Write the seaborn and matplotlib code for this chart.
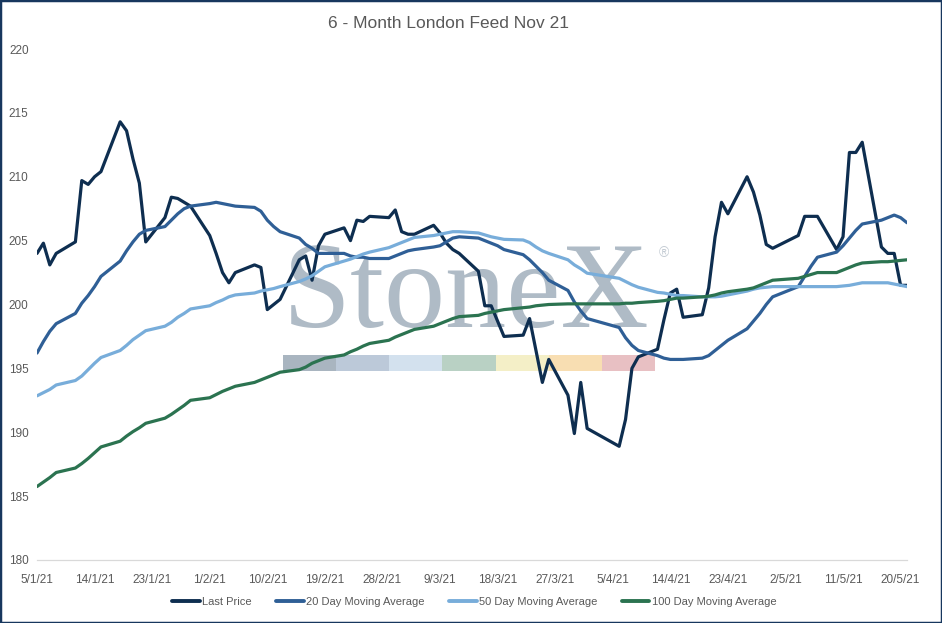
import matplotlib
matplotlib.use("Agg")
import matplotlib.pyplot as plt
import matplotlib.dates as mdates
from matplotlib.patches import Rectangle
from matplotlib.lines import Line2D
import seaborn as sns
import pandas as pd

# trading days (London), Good Friday / Easter Monday / May bank holiday off
holidays = ["2021-04-02", "2021-04-05", "2021-05-03"]
dates = pd.bdate_range("2021-01-05", "2021-05-21")
dates = dates[~dates.isin(pd.to_datetime(holidays))]

last_price = [
    204.0, 204.8, 203.1, 204.0, 204.9, 209.7, 209.4, 210.0, 210.4, 214.3,
    213.6, 211.4, 209.5, 204.9, 206.8, 208.4, 208.3, 208.0, 207.7,
    205.4, 204.0, 202.5, 201.7, 202.5, 203.1, 202.9, 199.6, 200.0, 200.4,
    203.5, 203.8, 201.9, 204.6, 205.5, 206.0, 205.0, 206.6, 206.5, 206.9,
    206.8, 207.4, 205.7, 205.5, 205.5, 206.2, 205.6, 204.8, 204.3, 204.0,
    202.6, 199.9, 199.9, 198.7, 197.5, 197.6, 198.9, 196.4, 193.9, 195.7,
    192.9, 189.9, 193.9,
    190.3, 188.9, 191.0, 195.0, 195.9, 196.5, 198.8, 200.9, 201.2, 199.0,
    199.2, 201.3, 205.3, 208.0, 207.1, 210.0, 208.8, 207.0, 204.7, 204.4,
    205.4, 206.9, 206.9, 206.9, 204.3, 205.3, 211.9, 211.9, 212.7, 204.5,
    204.0, 204.0, 201.5, 201.5,
]
ma20 = [
    196.2, 197.1, 197.9, 198.5, 199.3, 200.1, 200.7, 201.4, 202.2, 203.4,
    204.2, 204.9, 205.5, 205.8, 206.1, 206.6, 207.1, 207.5, 207.7,
    207.9, 208.0, 207.9, 207.8, 207.7, 207.6, 207.3, 206.6, 206.1, 205.7,
    205.2, 204.7, 204.4, 204.0, 204.0, 204.0, 203.8, 203.7, 203.7, 203.6,
    203.6, 203.8, 204.0, 204.2, 204.3, 204.5, 204.6, 204.9, 205.2, 205.3,
    205.2, 205.0, 204.8, 204.6, 204.3, 203.9, 203.5, 203.0, 202.5, 201.9,
    201.1, 200.2, 199.5,
    198.9, 198.2, 197.4, 196.8, 196.4, 196.0, 195.8, 195.7, 195.7, 195.7,
    195.8, 196.0, 196.4, 196.8, 197.2, 198.1, 198.7, 199.3, 200.0, 200.6,
    201.4, 202.2, 203.0, 203.7, 204.1, 204.6, 205.2, 205.8, 206.3, 206.6,
    206.8, 207.0, 206.8, 206.4,
]
ma50 = [
    192.85, 193.1, 193.35, 193.7, 194.05, 194.4, 194.9, 195.4, 195.85, 196.4,
    196.8, 197.25, 197.6, 197.95, 198.3, 198.6, 199.0, 199.3, 199.65,
    199.9, 200.15, 200.35, 200.6, 200.75, 200.9, 201.05, 201.15, 201.25, 201.4,
    201.8, 202.0, 202.25, 202.6, 202.95, 203.4, 203.55, 203.75, 203.95, 204.1,
    204.45, 204.65, 204.85, 205.05, 205.25, 205.4, 205.5, 205.6, 205.7, 205.7,
    205.6, 205.45, 205.3, 205.2, 205.1, 205.05, 204.85, 204.5, 204.2, 204.0,
    203.5, 203.1, 202.8,
    202.45, 202.05, 201.8, 201.55, 201.35, 200.95, 200.9, 200.8, 200.7, 200.7,
    200.6, 200.6, 200.6, 200.65, 200.75, 201.05, 201.2, 201.3, 201.35, 201.4,
    201.4, 201.4, 201.4, 201.4, 201.4, 201.45, 201.5, 201.6, 201.7, 201.7,
    201.7, 201.6, 201.5, 201.4,
]
ma100 = [
    185.75, 186.1, 186.45, 186.85, 187.2, 187.55, 187.95, 188.4, 188.85, 189.3,
    189.7, 190.05, 190.35, 190.7, 191.1, 191.4, 191.75, 192.1, 192.5,
    192.7, 192.95, 193.2, 193.4, 193.6, 193.9, 194.1, 194.3, 194.5, 194.7,
    194.9, 195.1, 195.4, 195.6, 195.8, 196.05, 196.3, 196.5, 196.75, 196.95,
    197.2, 197.45, 197.65, 197.85, 198.05, 198.3, 198.5, 198.7, 198.9, 199.05,
    199.15, 199.3, 199.4, 199.5, 199.6, 199.75, 199.8, 199.9, 199.95, 200.0,
    200.05, 200.05, 200.05,
    200.05, 200.05, 200.1, 200.1, 200.15, 200.25, 200.3, 200.4, 200.5, 200.5,
    200.6, 200.65, 200.75, 200.9, 201.0, 201.2, 201.3, 201.5, 201.7, 201.9,
    202.05, 202.2, 202.35, 202.5, 202.5, 202.7, 202.9, 203.1, 203.25, 203.35,
    203.35, 203.4, 203.45, 203.5,
]

series_names = ["Last Price", "20 Day Moving Average",
                "50 Day Moving Average", "100 Day Moving Average"]
colors = ["#0E2E50", "#2F5F96", "#78ADDA", "#2B7350"]

df = pd.DataFrame({"date": dates, series_names[0]: last_price,
                   series_names[1]: ma20, series_names[2]: ma50,
                   series_names[3]: ma100})
long_df = df.melt(id_vars="date", var_name="series", value_name="value")

sns.set_style("white")
plt.rcParams["font.family"] = ["Liberation Sans", "DejaVu Sans"]
grey = "#595959"

fig = plt.figure(figsize=(9.42, 6.23), dpi=100)
ax = fig.add_axes([37 / 942, 1 - 560 / 623, 870 / 942, 511 / 623])

# StoneX watermark behind the lines
ax.text(0.2828, 0.456, "StoneX", transform=ax.transAxes, ha="left",
        va="baseline", fontsize=88, family="Liberation Serif",
        color="#AFBBC6", zorder=0)
ax.text(0.720, 0.600, "\u00ae", transform=ax.transAxes, ha="center",
        va="center", fontsize=10, color="#C3CBD3", zorder=0)
strip = ["#A9B5C0", "#BCC9D9", "#D3E1EE", "#B9D1C4",
         "#F4EFC7", "#F8DEB2", "#E8C0C3"]
seg = (655 - 283) / 870 / len(strip)
for i, c in enumerate(strip):
    ax.add_patch(Rectangle(((283 - 37) / 870 + i * seg, 0.370), seg, 0.031,
                           transform=ax.transAxes, color=c, lw=0, zorder=0))

sns.lineplot(data=long_df, x="date", y="value", hue="series",
             hue_order=series_names, palette=dict(zip(series_names, colors)),
             linewidth=2.3, ax=ax, legend=False, zorder=3)

ax.set_xlim(dates[0], dates[-1])
ax.set_ylim(180, 220)
ax.set_yticks(range(180, 221, 5))
ticks = pd.date_range("2021-01-05", "2021-05-20", freq="9D")
ax.set_xticks(mdates.date2num(ticks))
ax.set_xticklabels([f"{d.day}/{d.month}/{d.strftime('%y')}" for d in ticks])
ax.tick_params(length=0, labelsize=8.5, colors=grey)
ax.tick_params(axis="y", pad=6)
ax.tick_params(axis="x", pad=10)
ax.set_xlabel("")
ax.set_ylabel("")
for s in ["top", "right", "left"]:
    ax.spines[s].set_visible(False)
ax.spines["bottom"].set_color("#D9D9D9")
ax.spines["bottom"].set_linewidth(0.9)

fig.text(448 / 942, 1 - 24 / 623, "6 - Month London Feed Nov 21",
         ha="center", va="center", fontsize=12.5, color=grey)

handles = [Line2D([0], [0], color=c, lw=2.8) for c in colors]
fig.legend(handles, series_names, loc="center", bbox_to_anchor=(474 / 942, 1 - 602 / 623),
           ncol=4, frameon=False, fontsize=8, labelcolor=grey,
           handlelength=2.5, handletextpad=0.2, columnspacing=2.2)

fig.patches.append(Rectangle((0, 0), 1, 1, transform=fig.transFigure,
                             fill=False, ec="#17375E", lw=2.5))

fig.savefig("out.png", dpi=100)
